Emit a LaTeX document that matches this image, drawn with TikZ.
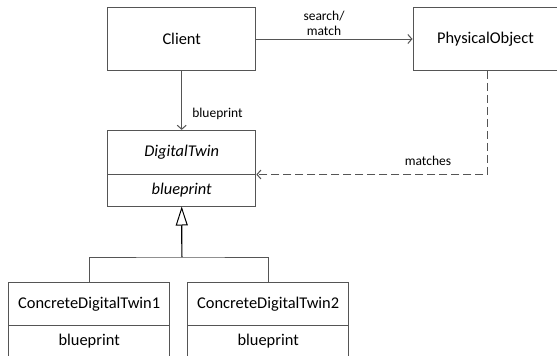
\documentclass[tikz,border=0pt]{standalone}
\usepackage{fontspec}
\setmainfont{Carlito}
\usetikzlibrary{arrows.meta,positioning}
\definecolor{ln}{HTML}{555555}
\tikzset{
  box/.style={draw=ln, line width=1pt, rectangle, inner sep=0pt, minimum width=#1, align=center, text=black},
  conn/.style={draw=ln, line width=1pt},
  opena/.style={-{Straight Barb[length=4pt,width=9pt,line width=1pt]}},
  gen/.style={-{Triangle[open,length=19pt,width=12pt,line width=1pt]}, draw=black, line width=1.2pt},
  lbl/.style={font=\fontsize{13.5}{15}\selectfont, text=black, align=center, inner sep=0pt}
}
\begin{document}
\begin{tikzpicture}[x=1pt,y=-1pt, font=\fontsize{16.4}{19}\selectfont]
\useasboundingbox (0,0) rectangle (557,356);
\node[box=148.2pt, minimum height=62.5pt] (client) at (181.7,39) {Client};
\node[box=145pt, minimum height=62.5pt] (po) at (485.5,39) {PhysicalObject};
\node[box=148.2pt, minimum height=43.6pt] (dt1) at (181.7,152.2) {\itshape DigitalTwin};
\node[box=148.2pt, minimum height=32pt] (dt2) at (181.7,190) {\itshape blueprint};
\node[box=160.6pt, minimum height=43.3pt] (c1a) at (89.2,304) {ConcreteDigitalTwin1};
\node[box=160.6pt, minimum height=36pt] (c1b) at (89.2,343.6) {};
\node[lbl, font=\fontsize{16.4}{19}\selectfont] (c1t) at (89.2,341) {blueprint};
\node[box=161.2pt, minimum height=43.3pt] (c2a) at (268.2,304) {ConcreteDigitalTwin2};
\node[box=161.2pt, minimum height=36pt] (c2b) at (268.2,343.6) {};
\node[lbl, font=\fontsize{16.4}{19}\selectfont] (c2t) at (268.2,341) {blueprint};
\coordinate (mid) at (181.9,257);
% associations
\draw[conn, opena] (client.east) -- (po.west);
\node[lbl] (sm) at (324,23) {search/\\match};
\draw[conn, opena] (client.south) -- (dt1.north);
\node[lbl] (bp) at (217.5,114) {blueprint};
\draw[conn, opena, dash pattern=on 8pt off 4pt] ([xshift=2pt]po.south) |- (dt1.south east);
\node[lbl] (mt) at (428,161) {matches};
% generalization
\draw[conn] (c1a.north) |- (mid) -| (c2a.north);
\draw[gen] (mid) -- (dt2.south);
\end{tikzpicture}
\end{document}
